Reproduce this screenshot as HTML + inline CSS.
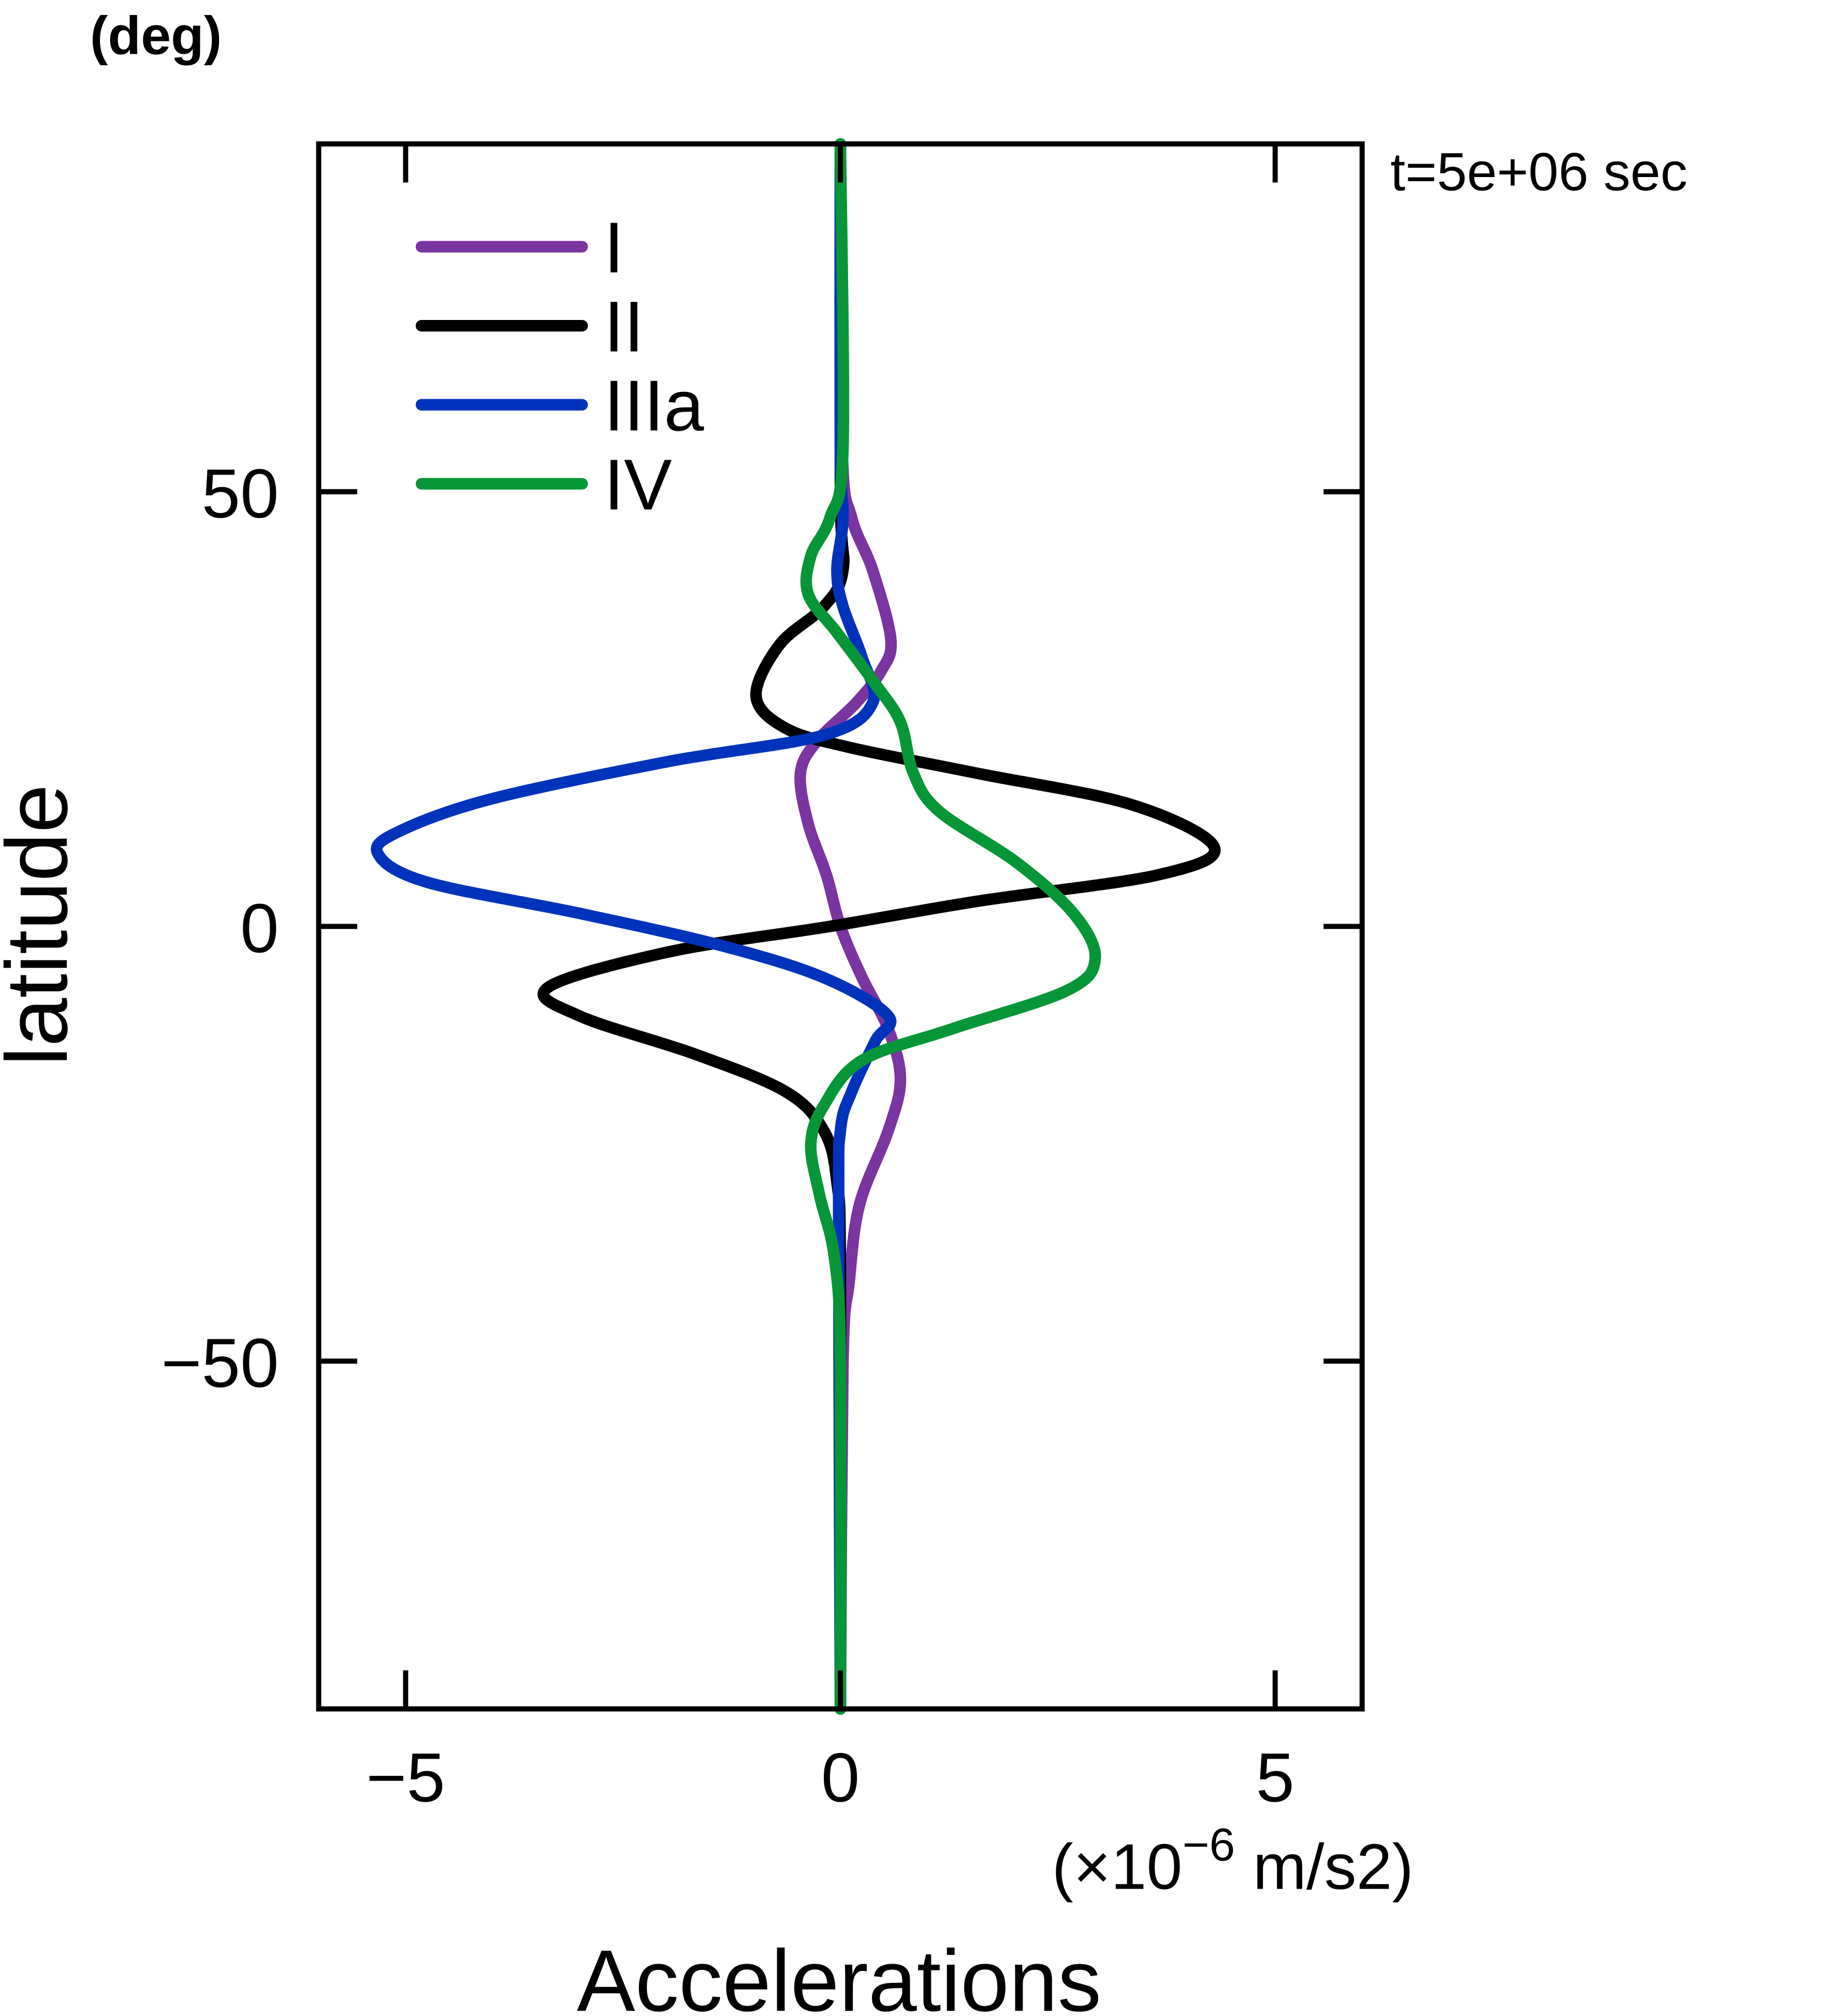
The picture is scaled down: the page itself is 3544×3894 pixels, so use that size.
<!DOCTYPE html>
<html><head><meta charset="utf-8"><style>html,body{margin:0;padding:0;background:#fff}svg{display:block}</style></head>
<body>
<svg id="chart" width="3544" height="3894" viewBox="0 0 1428 1569" xmlns="http://www.w3.org/2000/svg" font-family="'Liberation Sans', 'DejaVu Sans', sans-serif">
<rect width="1428" height="1569" fill="#fff"/>
<g id="curves"></g>
<rect x="248" y="112" width="812" height="1218" fill="none" stroke="#000" stroke-width="4"/>
<g id="ticks"></g>
<text x="70" y="42" font-size="42" font-weight="bold">(deg)</text>
<text transform="translate(52,720) rotate(-90)" text-anchor="middle" font-size="68">latitude</text>
<text x="1100" y="1470" text-anchor="end" font-size="50">(×10<tspan dy="-22" font-size="36">−6</tspan><tspan dy="22"> m/s2)</tspan></text>
<text x="653" y="1565" text-anchor="middle" font-size="68">Accelerations</text>
<text x="1082" y="148" font-size="42">t=5e+06 sec</text>
<g id="legend"></g>
</svg>
<script>
const xTicks = [-5, 0, 5];
const yTicks = [50, 0, -50];
const seriesNames = ["I", "II", "IIIa", "IV"];
const seriesColors = ["#7a35a0", "#000000", "#0033bb", "#079637"];
const latI = [90, 55, 47, 41, 33, 29.4, 25.7, 21.3, 17.6, 11.8, 5.9, 0, -5.9, -11.8, -17.6, -23.5, -32, -41, -50, -90];
const valI = [0, 0.02, 0.13, 0.37, 0.58, 0.47, 0.18, -0.27, -0.46, -0.37, -0.16, 0, 0.25, 0.55, 0.69, 0.55, 0.22, 0.1, 0.03, 0];
const latII = [90, 50, 41, 36.8, 32.4, 26.5, 22.8, 20.6, 17.6, 14, 9.1, 5.9, 2.9, 0, -2.9, -7, -10.3, -14.7, -19, -23.5, -29.4, -40, -90];
const valII = [0, 0, 0.03, -0.19, -0.7, -0.97, -0.63, 0.1, 1.58, 3.35, 4.3, 3.64, 1.58, -0.12, -1.96, -3.36, -3.0, -1.67, -0.63, -0.19, -0.04, 0, 0];
const latIII = [90, 55, 47, 41, 36.8, 30.9, 25.7, 22, 19, 14.7, 11, 8.4, 5.1, 1.5, -2.2, -5.9, -10.3, -13.2, -19, -23.5, -34, -90];
const valIII = [0, 0, 0.03, -0.04, 0.03, 0.25, 0.37, -0.19, -1.96, -4.0, -5.06, -5.32, -4.76, -3.0, -1.37, -0.19, 0.55, 0.4, 0.13, 0, -0.02, 0];
const latIV = [90, 55, 47, 42.6, 38.2, 33.8, 27.9, 23.5, 17.6, 13.2, 7.4, 1.5, -3.7, -7.4, -11.8, -15.4, -20.6, -25, -30.9, -38, -50, -90];
const valIV = [0, 0.03, -0.12, -0.34, -0.37, -0.04, 0.4, 0.69, 0.84, 1.14, 2.02, 2.68, 2.93, 2.6, 1.28, 0.25, -0.19, -0.34, -0.24, -0.07, 0, 0];
const latArrays = [latI, latII, latIII, latIV];
const valArrays = [valI, valII, valIII, valIV];

const NS = "http://www.w3.org/2000/svg";
const X0 = 248, X1 = 1060, Y0 = 112, Y1 = 1330;
const xMin = -6, xMax = 6, yMin = -90, yMax = 90;
function sx(v) { return X0 + (v - xMin) / (xMax - xMin) * (X1 - X0); }
function sy(v) { return Y1 - (v - yMin) / (yMax - yMin) * (Y1 - Y0); }

function smoothPath(pts) {
  let d = "M" + pts[0][0].toFixed(2) + "," + pts[0][1].toFixed(2);
  for (let i = 0; i < pts.length - 1; i++) {
    const p0 = pts[Math.max(i - 1, 0)], p1 = pts[i], p2 = pts[i + 1], p3 = pts[Math.min(i + 2, pts.length - 1)];
    const c1x = p1[0] + (p2[0] - p0[0]) / 6, c1y = p1[1] + (p2[1] - p0[1]) / 6;
    const c2x = p2[0] - (p3[0] - p1[0]) / 6, c2y = p2[1] - (p3[1] - p1[1]) / 6;
    d += " C" + c1x.toFixed(2) + "," + c1y.toFixed(2) + " " + c2x.toFixed(2) + "," + c2y.toFixed(2) + " " + p2[0].toFixed(2) + "," + p2[1].toFixed(2);
  }
  return d;
}

const curves = document.getElementById("curves");
for (let s = 0; s < seriesNames.length; s++) {
  const pts = latArrays[s].map((la, i) => [sx(valArrays[s][i]), sy(la)]);
  const p = document.createElementNS(NS, "path");
  p.setAttribute("d", smoothPath(pts));
  p.setAttribute("fill", "none");
  p.setAttribute("stroke", seriesColors[s]);
  p.setAttribute("stroke-width", "9");
  p.setAttribute("stroke-linejoin", "round");
  p.setAttribute("stroke-linecap", "round");
  
  
  curves.appendChild(p);
}

const ticks = document.getElementById("ticks");
function mk(tag, attrs, parent, text) {
  const e = document.createElementNS(NS, tag);
  for (const k in attrs) e.setAttribute(k, attrs[k]);
  if (text !== undefined) e.textContent = text;
  parent.appendChild(e);
  return e;
}
xTicks.forEach(v => {
  const x = sx(v);
  const t1 = mk("line", {x1: x, x2: x, y1: Y0, y2: Y0 + 30, stroke: "#000", "stroke-width": 4}, ticks);
  
  
  const t2 = mk("line", {x1: x, x2: x, y1: Y1, y2: Y1 - 30, stroke: "#000", "stroke-width": 4}, ticks);
  
  
  const lb = mk("text", {x: x, y: Y1 + 72, "text-anchor": "middle", "font-size": 54}, ticks, v < 0 ? "−" + Math.abs(v) : String(v));
  
  
});
yTicks.forEach(v => {
  const y = sy(v);
  const t1 = mk("line", {x1: X0, x2: X0 + 30, y1: y, y2: y, stroke: "#000", "stroke-width": 4}, ticks);
  
  
  const t2 = mk("line", {x1: X1, x2: X1 - 30, y1: y, y2: y, stroke: "#000", "stroke-width": 4}, ticks);
  
  
  const lb = mk("text", {x: 217, y: y + 20, "text-anchor": "end", "font-size": 54}, ticks, v < 0 ? "−" + Math.abs(v) : String(v));
  
  
});

const legend = document.getElementById("legend");
seriesNames.forEach((n, i) => {
  const y = 192 + i * 61.5;
  const ln = mk("line", {x1: 328, x2: 453, y1: y, y2: y, stroke: seriesColors[i], "stroke-width": 9, "stroke-linecap": "round"}, legend);
  
  
  const tx = mk("text", {x: 470, y: y + 20, "font-size": 56}, legend, n);
  
  
});
</script>
</body></html>
